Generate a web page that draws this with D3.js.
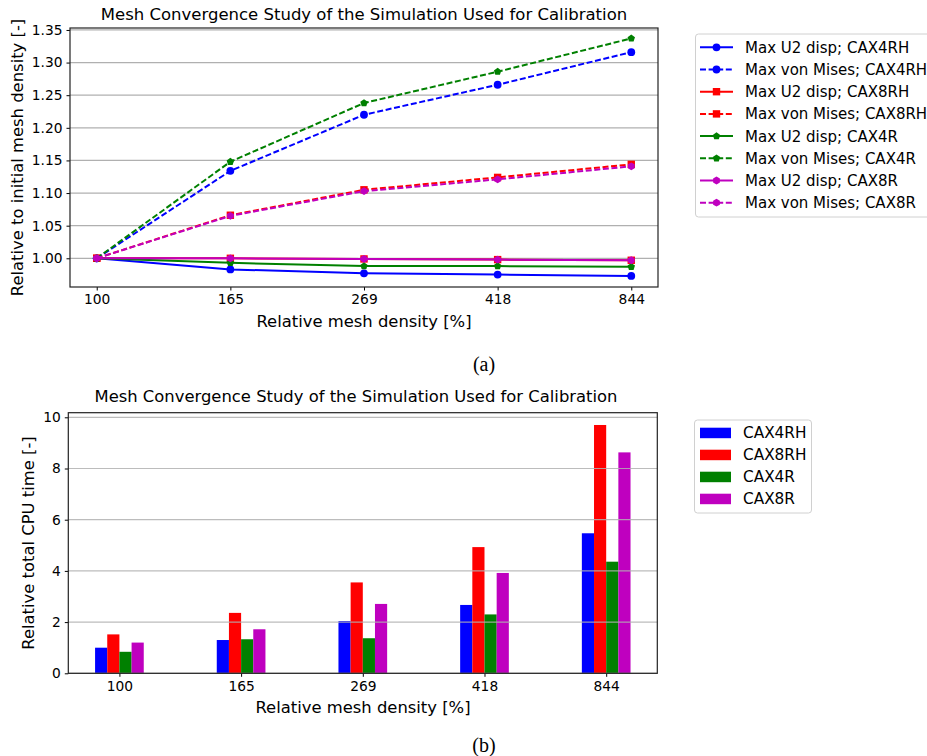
<!DOCTYPE html>
<html>
<head>
<meta charset="utf-8">
<script src="https://cdn.jsdelivr.net/npm/d3@7"></script>
<style>
  body { margin: 0; background: #fff; }
  svg { display: block; font-family: "DejaVu Sans", sans-serif; }
  .caption { font-family: "Liberation Serif", "DejaVu Serif", serif; }
</style>
</head>
<body>
<svg width="927" height="756"></svg>
<script>
// mesh densities (x categories)
const densities = ["100", "165", "269", "418", "844"];

// (a) values relative to initial mesh
const u2CAX4RH = [1.000, 0.983, 0.977, 0.975, 0.973];
const vmCAX4RH = [1.000, 1.134, 1.220, 1.266, 1.316];
const u2CAX8RH = [1.000, 1.000, 0.999, 0.998, 0.997];
const vmCAX8RH = [1.000, 1.066, 1.105, 1.124, 1.144];
const u2CAX4R  = [1.000, 0.993, 0.988, 0.988, 0.987];
const vmCAX4R  = [1.000, 1.148, 1.238, 1.286, 1.337];
const u2CAX8R  = [1.000, 1.000, 0.999, 0.998, 0.997];
const vmCAX8R  = [1.000, 1.065, 1.103, 1.121, 1.141];
const topTicks = [1.00, 1.05, 1.10, 1.15, 1.20, 1.25, 1.30, 1.35];

// (b) relative total CPU time
const elements = ["CAX4RH", "CAX8RH", "CAX4R", "CAX8R"];
const cpuCAX4RH = [1.00, 1.30, 2.04, 2.67, 5.47];
const cpuCAX8RH = [1.52, 2.36, 3.55, 4.93, 9.70];
const cpuCAX4R  = [0.84, 1.33, 1.37, 2.30, 4.36];
const cpuCAX8R  = [1.20, 1.72, 2.71, 3.92, 8.63];
const bottomTicks = [0, 2, 4, 6, 8, 10];

const title = "Mesh Convergence Study of the Simulation Used for Calibration";

const colors = { CAX4RH: "#0000ff", CAX8RH: "#ff0000", CAX4R: "#008000", CAX8R: "#bf00bf" };
const markers = { CAX4RH: "circle", CAX8RH: "square", CAX4R: "pentagon", CAX8R: "hexagon" };

const lineSeries = [
  { label: "Max U2 disp; CAX4RH", el: "CAX4RH", dashed: false, values: u2CAX4RH },
  { label: "Max von Mises; CAX4RH", el: "CAX4RH", dashed: true, values: vmCAX4RH },
  { label: "Max U2 disp; CAX8RH", el: "CAX8RH", dashed: false, values: u2CAX8RH },
  { label: "Max von Mises; CAX8RH", el: "CAX8RH", dashed: true, values: vmCAX8RH },
  { label: "Max U2 disp; CAX4R", el: "CAX4R", dashed: false, values: u2CAX4R },
  { label: "Max von Mises; CAX4R", el: "CAX4R", dashed: true, values: vmCAX4R },
  { label: "Max U2 disp; CAX8R", el: "CAX8R", dashed: false, values: u2CAX8R },
  { label: "Max von Mises; CAX8R", el: "CAX8R", dashed: true, values: vmCAX8R }
];
const cpuSeries = [cpuCAX4RH, cpuCAX8RH, cpuCAX4R, cpuCAX8R];

const svg = d3.select("svg");
const gridColor = "#b0b0b0";

function polygon(n, r, rot) {
  const pts = [];
  for (let i = 0; i < n; i++) {
    const a = rot + i * 2 * Math.PI / n;
    pts.push([r * Math.sin(a), -r * Math.cos(a)]);
  }
  return "M" + pts.map(p => p.join(",")).join("L") + "Z";
}

function drawMarker(g, type, x, y, color) {
  if (type === "circle") {
    g.append("circle").attr("cx", x).attr("cy", y).attr("r", 3.9).attr("fill", color);
  } else if (type === "square") {
    g.append("rect").attr("x", x - 3.7).attr("y", y - 3.7).attr("width", 7.4).attr("height", 7.4).attr("fill", color);
  } else if (type === "pentagon") {
    g.append("path").attr("d", polygon(5, 3.9, 0)).attr("transform", `translate(${x},${y})`).attr("fill", color);
  } else {
    g.append("path").attr("d", polygon(6, 3.9, 0)).attr("transform", `translate(${x},${y})`).attr("fill", color);
  }
}

// ---------- (a) line chart ----------
const a = { left: 70, right: 658, top: 28, bottom: 287 };
const xA = d3.scalePoint().domain(densities).range([a.left, a.right]).padding(0.2);
const yA = d3.scaleLinear().domain([0.956, 1.353]).range([a.bottom, a.top]);

const gA = svg.append("g");
gA.append("g").selectAll("line").data(topTicks).enter().append("line")
  .attr("x1", a.left).attr("x2", a.right)
  .attr("y1", d => yA(d)).attr("y2", d => yA(d))
  .attr("stroke", gridColor).attr("stroke-width", 1.2);

const line = d3.line().x((d, i) => xA(densities[i])).y(d => yA(d));
lineSeries.forEach(s => {
  const c = colors[s.el];
  gA.append("path").datum(s.values)
    .attr("d", line).attr("fill", "none").attr("stroke", c).attr("stroke-width", 2)
    .attr("stroke-dasharray", s.dashed ? "6,2.6" : null);
  const mg = gA.append("g");
  s.values.forEach((v, i) => drawMarker(mg, markers[s.el], xA(densities[i]), yA(v), c));
});

const axA = gA.append("g");
axA.append("g").attr("transform", `translate(0,${a.bottom})`)
  .call(d3.axisBottom(xA).tickSize(3.5).tickPadding(4))
  .call(g => g.select(".domain").remove());
axA.append("g").attr("transform", `translate(${a.left},0)`)
  .call(d3.axisLeft(yA).tickValues(topTicks).tickFormat(d3.format(".2f")).tickSize(3.5).tickPadding(4))
  .call(g => g.select(".domain").remove());
axA.selectAll("text").attr("font-family", "DejaVu Sans").attr("font-size", 13.8).attr("fill", "#000");
gA.append("rect").attr("x", a.left).attr("y", a.top).attr("width", a.right - a.left).attr("height", a.bottom - a.top)
  .attr("fill", "none").attr("stroke", "#222").attr("stroke-width", 1.2);

gA.append("text").attr("x", (a.left + a.right) / 2).attr("y", 20).attr("text-anchor", "middle")
  .attr("font-size", 16.5).text(title);
gA.append("text").attr("x", (a.left + a.right) / 2).attr("y", 327).attr("text-anchor", "middle")
  .attr("font-size", 16.4).text("Relative mesh density [%]");
gA.append("text").attr("transform", `translate(23,${(a.top + a.bottom) / 2}) rotate(-90)`)
  .attr("text-anchor", "middle").attr("font-size", 16.4).text("Relative to initial mesh density [-]");

// legend (a)
const legA = gA.append("g");
legA.append("rect").attr("x", 695.5).attr("y", 34).attr("width", 240).attr("height", 183)
  .attr("rx", 3).attr("fill", "#fff").attr("stroke", "#d0d0d0").attr("stroke-width", 1);
lineSeries.forEach((s, i) => {
  const y = 47.3 + i * 22.2;
  const c = colors[s.el];
  legA.append("line").attr("x1", 700).attr("x2", 733).attr("y1", y).attr("y2", y)
    .attr("stroke", c).attr("stroke-width", 2).attr("stroke-dasharray", s.dashed ? "6,2.6" : null);
  drawMarker(legA, markers[s.el], 716.5, y, c);
  legA.append("text").attr("x", 745).attr("y", y + 5.4).attr("font-size", 15).text(s.label);
});

svg.append("text").attr("class", "caption").attr("x", 484).attr("y", 371).attr("text-anchor", "middle")
  .attr("font-size", 20).text("(a)");

// ---------- (b) bar chart ----------
const b = { left: 68.3, right: 657.3, top: 412.7, bottom: 673.3 };
const xB = d3.scalePoint().domain(densities).range([b.left, b.right]).padding(0.42);
const yB = d3.scaleLinear().domain([0, 10.18]).range([b.bottom, b.top]);
const barW = xB.step() * 0.1;

const gB = svg.append("g");
cpuSeries.forEach((vals, k) => {
  gB.append("g").selectAll("rect").data(vals).enter().append("rect")
    .attr("x", (d, i) => xB(densities[i]) + (k - 2) * barW)
    .attr("y", d => yB(d))
    .attr("width", barW)
    .attr("height", d => yB(0) - yB(d))
    .attr("fill", colors[elements[k]]);
});
gB.append("g").selectAll("line").data(bottomTicks).enter().append("line")
  .attr("x1", b.left).attr("x2", b.right)
  .attr("y1", d => yB(d)).attr("y2", d => yB(d))
  .attr("stroke", gridColor).attr("stroke-width", 1.2).attr("stroke-opacity", 0.85);

const axB = gB.append("g");
axB.append("g").attr("transform", `translate(0,${b.bottom})`)
  .call(d3.axisBottom(xB).tickSize(3.5).tickPadding(4))
  .call(g => g.select(".domain").remove());
axB.append("g").attr("transform", `translate(${b.left},0)`)
  .call(d3.axisLeft(yB).tickValues(bottomTicks).tickFormat(d3.format("d")).tickSize(3.5).tickPadding(4))
  .call(g => g.select(".domain").remove());
axB.selectAll("text").attr("font-family", "DejaVu Sans").attr("font-size", 13.8).attr("fill", "#000");
gB.append("rect").attr("x", b.left).attr("y", b.top).attr("width", b.right - b.left).attr("height", b.bottom - b.top)
  .attr("fill", "none").attr("stroke", "#222").attr("stroke-width", 1.2);

gB.append("text").attr("x", 356).attr("y", 402).attr("text-anchor", "middle")
  .attr("font-size", 16.4).text(title);
gB.append("text").attr("x", 363).attr("y", 712.5).attr("text-anchor", "middle")
  .attr("font-size", 16.4).text("Relative mesh density [%]");
gB.append("text").attr("transform", `translate(34,${(b.top + b.bottom) / 2}) rotate(-90)`)
  .attr("text-anchor", "middle").attr("font-size", 16.4).text("Relative total CPU time [-]");

// legend (b)
const legB = gB.append("g");
legB.append("rect").attr("x", 694.5).attr("y", 420).attr("width", 117).attr("height", 93)
  .attr("rx", 3).attr("fill", "#fff").attr("stroke", "#d0d0d0").attr("stroke-width", 1);
elements.forEach((el, i) => {
  const y = 432.7 + i * 22;
  legB.append("rect").attr("x", 700).attr("y", y - 5).attr("width", 31).attr("height", 10.5).attr("fill", colors[el]);
  legB.append("text").attr("x", 743).attr("y", y + 5.4).attr("font-size", 15.3).text(el);
});

svg.append("text").attr("class", "caption").attr("x", 484).attr("y", 752).attr("text-anchor", "middle")
  .attr("font-size", 20).text("(b)");
</script>
</body>
</html>
